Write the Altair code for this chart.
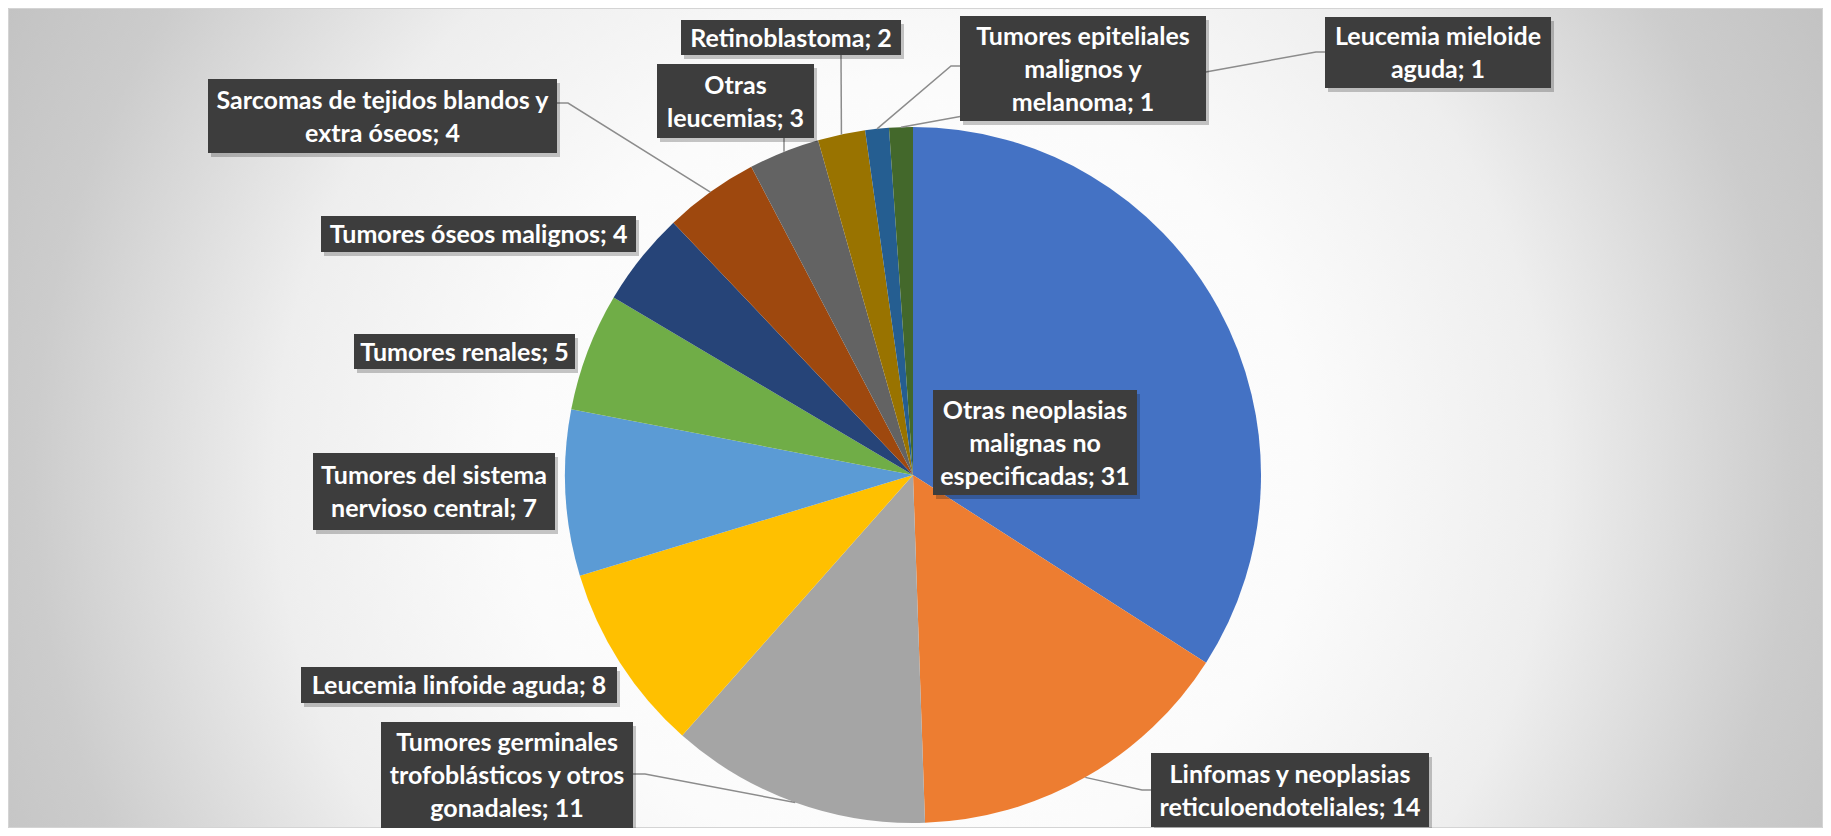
import math
import altair as alt
import pandas as pd

# ---------------- data ----------------
categories = [
    "Otras neoplasias malignas no especificadas",
    "Linfomas y neoplasias reticuloendoteliales",
    "Tumores germinales trofoblásticos y otros gonadales",
    "Leucemia linfoide aguda",
    "Tumores del sistema nervioso central",
    "Tumores renales",
    "Tumores óseos malignos",
    "Sarcomas de tejidos blandos y extra óseos",
    "Otras leucemias",
    "Retinoblastoma",
    "Tumores epiteliales malignos y melanoma",
    "Leucemia mieloide aguda",
]
values = [31, 14, 11, 8, 7, 5, 4, 4, 3, 2, 1, 1]

# wrapped label text (line breaks as in the original)
label_wrapped = [
    "Otras neoplasias\nmalignas no\nespecificadas",
    "Linfomas y neoplasias\nreticuloendoteliales",
    "Tumores germinales\ntrofoblásticos y otros\ngonadales",
    "Leucemia linfoide aguda",
    "Tumores del sistema\nnervioso central",
    "Tumores renales",
    "Tumores óseos malignos",
    "Sarcomas de tejidos blandos y\nextra óseos",
    "Otras\nleucemias",
    "Retinoblastoma",
    "Tumores epiteliales\nmalignos y\nmelanoma",
    "Leucemia mieloide\naguda",
]

# ---------------- style / layout ----------------
colors = ["#4472C4", "#ED7D31", "#A5A5A5", "#FFC000", "#5B9BD5", "#70AD47",
          "#264478", "#9E480E", "#636363", "#997300", "#255E91", "#43682B"]

MARGIN = 8            # page margin; layout below measured in page pixels
W, H = 1815, 820
CX, CY, R = 913 - MARGIN, 475 - MARGIN, 348
LINE_H = 33

# label boxes (x0, y0, x1, y1) in page pixels
label_boxes = [
    (933, 390, 1137, 495),
    (1151, 753, 1429, 827),
    (381, 722, 633, 828),
    (301, 667, 617, 703),
    (313, 453, 555, 530),
    (354, 334, 575, 369),
    (321, 216, 636, 252),
    (208, 79, 557, 153),
    (657, 64, 814, 138),
    (681, 20, 901, 55),
    (960, 16, 1206, 121),
    (1325, 17, 1551, 88),
]
# leader line anchor points at the label side (page pixels); None = no leader
leader_anchor = [
    None,
    [(1151, 790), (1142, 790)],
    [(633, 774), (645, 774)],
    None, None, None, None,
    [(557, 103), (568, 103)],
    [(784, 138)],
    [(841, 55)],
    [(960, 66), (951, 66)],
    [(1325, 52), (1316, 52)],
]

# ---------------- tables ----------------
total = sum(values)
pie_df = pd.DataFrame({"category": categories, "value": values, "idx": list(range(len(values)))})

box_rows, text_rows, line_rows = [], [], []
cum = 0.0
for i, (cat, v) in enumerate(zip(categories, values)):
    mid = (cum + v / 2) / total * 2 * math.pi
    cum += v
    x0, y0, x1, y1 = label_boxes[i]
    box_rows.append({"category": cat, "x0": x0 - MARGIN, "x1": x1 - MARGIN,
                     "y0": y0 - MARGIN, "y1": y1 - MARGIN,
                     "sx0": x0 - MARGIN + 3, "sx1": x1 - MARGIN + 3,
                     "sy0": y0 - MARGIN + 4, "sy1": y1 - MARGIN + 4})
    nlines = label_wrapped[i].count("\n") + 1
    text_rows.append({"category": cat, "label": f"{label_wrapped[i]}; {v}",
                      "cx": (x0 + x1) / 2 - MARGIN,
                      "cy": (y0 + y1) / 2 - MARGIN - (nlines - 1) * LINE_H / 2 + 1})
    if leader_anchor[i]:
        pts = [(px - MARGIN, py - MARGIN) for px, py in leader_anchor[i]]
        pts.append((CX + R * math.sin(mid), CY - R * math.cos(mid)))
        for k, (px, py) in enumerate(pts):
            line_rows.append({"category": cat, "k": k, "px": px, "py": py})

box_df = pd.DataFrame(box_rows)
text_df = pd.DataFrame(text_rows)
line_df = pd.DataFrame(line_rows)

# ---------------- layers ----------------
G = 1100
gradient = alt.RadialGradient(
    gradient="radial", x1=0.5, y1=0.5, r1=0, x2=0.5, y2=0.5, r2=0.5,
    stops=[
        alt.GradientStop(color="#ffffff", offset=0),
        alt.GradientStop(color="#fbfbfb", offset=0.36),
        alt.GradientStop(color="#eeeeee", offset=0.58),
        alt.GradientStop(color="#cccccc", offset=0.80),
        alt.GradientStop(color="#c2c2c2", offset=0.94),
        alt.GradientStop(color="#c0c0c0", offset=1.0),
    ],
)
one = pd.DataFrame({"a": [0]})
bg = alt.Chart(one).mark_rect(color=gradient, clip=True).encode(
    x=alt.value(CX - G), x2=alt.value(CX + G), y=alt.value(CY - G), y2=alt.value(CY + G)
)
frame = alt.Chart(one).mark_rect(fill=None, stroke="#d4d4d4", strokeWidth=1).encode(
    x=alt.value(0.5), x2=alt.value(W - 0.5), y=alt.value(0.5), y2=alt.value(H - 0.5)
)

pie = alt.Chart(pie_df).mark_arc(outerRadius=R).encode(
    theta=alt.Theta("value:Q", stack=True),
    order=alt.Order("idx:Q"),
    color=alt.Color("category:N", scale=alt.Scale(domain=categories, range=colors), legend=None),
    x=alt.value(CX), y=alt.value(CY),
)

leaders = alt.Chart(line_df).mark_line(color="#8c8c8c", strokeWidth=1.5).encode(
    x=alt.X("px:Q", scale=None, axis=None),
    y=alt.Y("py:Q", scale=None, axis=None),
    detail="category:N",
    order="k:Q",
)

shadows = alt.Chart(box_df).mark_rect(color="#000000", opacity=0.22).encode(
    x=alt.X("sx0:Q", scale=None, axis=None), x2="sx1:Q",
    y=alt.Y("sy0:Q", scale=None, axis=None), y2="sy1:Q",
)
boxes = alt.Chart(box_df).mark_rect(color="#3d3d3d").encode(
    x=alt.X("x0:Q", scale=None, axis=None), x2="x1:Q",
    y=alt.Y("y0:Q", scale=None, axis=None), y2="y1:Q",
)
texts = alt.Chart(text_df).mark_text(
    font="Lato", fontWeight="bold", fontSize=25, color="#ffffff",
    align="center", baseline="middle", lineBreak="\n", lineHeight=LINE_H,
).encode(
    x=alt.X("cx:Q", scale=None, axis=None),
    y=alt.Y("cy:Q", scale=None, axis=None),
    text="label:N",
)

chart = alt.layer(bg, frame, pie, leaders, shadows, boxes, texts).properties(
    width=W, height=H, autosize=alt.AutoSizeParams(type="none"), padding=0,
    background="#ffffff",
).configure_view(stroke=None)

chart.save("out.html", embed_options={"renderer": "svg", "actions": False})
